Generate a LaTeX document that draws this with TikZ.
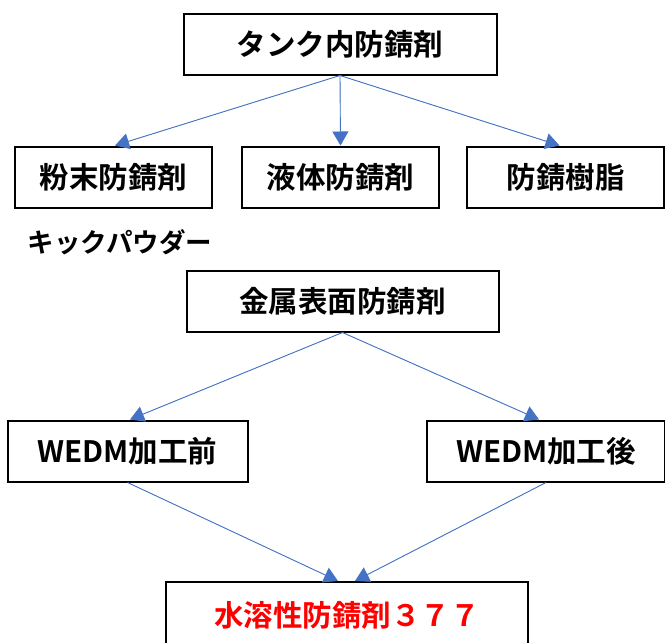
\documentclass[tikz,border=0pt]{standalone}
\usepackage{fontspec}
\setmainfont{Noto Sans CJK JP}[BoldFont={* Bold}]
\usetikzlibrary{arrows.meta}
\definecolor{linkblue}{RGB}{68,114,196}
\tikzset{>={Triangle[width=16pt,length=14pt]}}
\tikzset{
  box/.style={draw=black, line width=2pt, minimum height=61pt, inner sep=0pt,
    font=\fontsize{29.5}{32}\selectfont\bfseries},
  link/.style={->, draw=linkblue, fill=linkblue, line width=0.9pt}
}

\begin{document}
\begin{tikzpicture}[x=1pt, y=1pt]
      \useasboundingbox (0, 0) rectangle (665, -643);
      \node[box, minimum width=313pt] (tank) at (340, -44) { タンク内防錆剤 };
      \node[box, minimum width=197pt] (powder) at (113.5, -177) { 粉末防錆剤 };
      \node[box, minimum width=197pt] (liquid) at (340.5, -177) { 液体防錆剤 };
      \node[box, minimum width=197pt] (resin) at (565.5, -177) { 防錆樹脂 };
      \node[font=\fontsize{26.5}{29}\selectfont\bfseries] (kick) at (120, -242) { キックパウダー };
      \node[box, minimum width=312pt] (metal) at (342.5, -301) { 金属表面防錆剤 };
      \node[box, minimum width=240pt] (before) at (127.5, -451) { WEDM加工前 };
      \node[box, minimum width=238pt] (after) at (546, -451) { WEDM加工後 };
      \node[box, minimum width=362pt, minimum height=66pt, text=red] (agent) at (347, -615) { 水溶性防錆剤３７７ };
      \draw[link] (tank.south) to ([xshift=1.5pt]powder.north);
      \draw[link] (tank.south) to (liquid.north);
      \draw[link] (tank.south) to ([xshift=-6pt]resin.north);
      \draw[link] (metal.south) to ([xshift=2.5pt]before.north);
      \draw[link] (metal.south) to ([xshift=-7pt]after.north);
      \draw[link] (before.south) to ([xshift=-9pt]agent.north);
      \draw[link] (after.south) to ([xshift=8pt]agent.north);
    \end{tikzpicture}
\end{document}
